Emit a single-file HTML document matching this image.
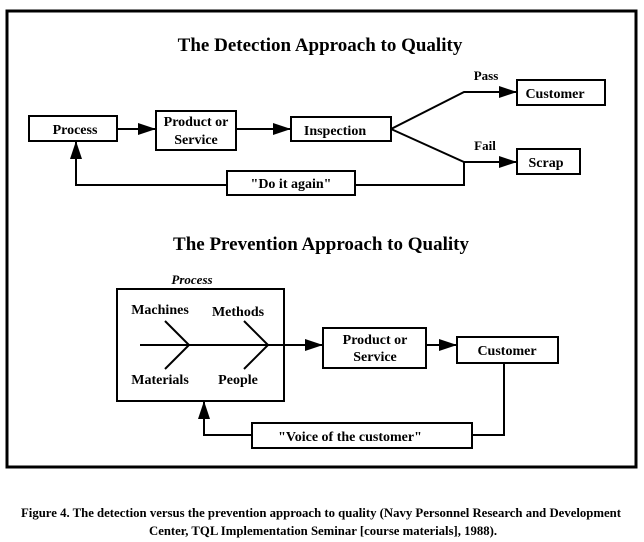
<!DOCTYPE html>
<html><head><style>
html,body{margin:0;padding:0;background:#fff;}
svg{display:block}
text{font-family:"Liberation Serif",serif;font-weight:bold;fill:#000}
</style></head><body>
<svg width="644" height="542" viewBox="0 0 644 542">
<defs><marker id="b" markerWidth="18" markerHeight="12" refX="18" refY="6" orient="auto" markerUnits="userSpaceOnUse"><path d="M0,0L18,6L0,12z" fill="#000"/></marker></defs>
<rect x="7" y="11" width="629" height="456" fill="none" stroke="#000" stroke-width="3"/>
<text x="320" y="51" font-size="19" text-anchor="middle">The Detection Approach to Quality</text>
<g fill="none" stroke="#000" stroke-width="2">
<rect x="29" y="116" width="88" height="25"/>
<rect x="156" y="111" width="80" height="39"/>
<rect x="291" y="117" width="100" height="24"/>
<rect x="517" y="80" width="88" height="25"/>
<rect x="517" y="149" width="63" height="25"/>
<rect x="227" y="171" width="128" height="24"/>
<line x1="117" y1="129" x2="156" y2="129" marker-end="url(#b)"/>
<line x1="236" y1="129" x2="291" y2="129" marker-end="url(#b)"/>
<polyline points="391,129 464,92 517,92" marker-end="url(#b)"/>
<polyline points="391,129 464,162 517,162" marker-end="url(#b)"/>
<polyline points="464,162 464,185 355,185"/>
<polyline points="227,185 76,185 76,141" marker-end="url(#b)"/>
</g>
<text x="75" y="134" font-size="14" text-anchor="middle">Process</text>
<text x="196" y="126" font-size="14" text-anchor="middle">Product or</text>
<text x="196" y="144" font-size="14" text-anchor="middle">Service</text>
<text x="335" y="135" font-size="14" text-anchor="middle">Inspection</text>
<text x="555" y="98" font-size="14" text-anchor="middle">Customer</text>
<text x="546" y="167" font-size="14" text-anchor="middle">Scrap</text>
<text x="486" y="80" font-size="13" text-anchor="middle">Pass</text>
<text x="485" y="150" font-size="13" text-anchor="middle">Fail</text>
<text x="291" y="188" font-size="14" text-anchor="middle">"Do it again"</text>
<text x="321" y="250" font-size="19" text-anchor="middle">The Prevention Approach to Quality</text>
<text x="192" y="284" font-size="13" text-anchor="middle" font-style="italic">Process</text>
<g fill="none" stroke="#000" stroke-width="2">
<rect x="117" y="289" width="167" height="112"/>
<rect x="323" y="328" width="103" height="40"/>
<rect x="457" y="337" width="101" height="26"/>
<rect x="252" y="423" width="220" height="25"/>
<line x1="140" y1="345" x2="323" y2="345" marker-end="url(#b)"/>
<polyline points="165,321 189,345 165,369"/>
<polyline points="244,321 268,345 244,369"/>
<line x1="426" y1="345" x2="457" y2="345" marker-end="url(#b)"/>
<polyline points="504,363 504,435 472,435"/>
<polyline points="252,435 204,435 204,401" marker-end="url(#b)"/>
</g>
<text x="160" y="314" font-size="14" text-anchor="middle">Machines</text>
<text x="238" y="316" font-size="14" text-anchor="middle">Methods</text>
<text x="160" y="384" font-size="14" text-anchor="middle">Materials</text>
<text x="238" y="384" font-size="14" text-anchor="middle">People</text>
<text x="375" y="344" font-size="14" text-anchor="middle">Product or</text>
<text x="375" y="361" font-size="14" text-anchor="middle">Service</text>
<text x="507" y="355" font-size="14" text-anchor="middle">Customer</text>
<text x="350" y="441" font-size="14" text-anchor="middle">"Voice of the customer"</text>
<text x="21" y="517" font-size="12.5" textLength="600" lengthAdjust="spacingAndGlyphs">Figure 4.  The detection versus the prevention approach to quality (Navy Personnel Research and Development</text>
<text x="149" y="535" font-size="12.5" textLength="348" lengthAdjust="spacingAndGlyphs">Center, TQL Implementation Seminar [course materials], 1988).</text>
</svg>
</body></html>
